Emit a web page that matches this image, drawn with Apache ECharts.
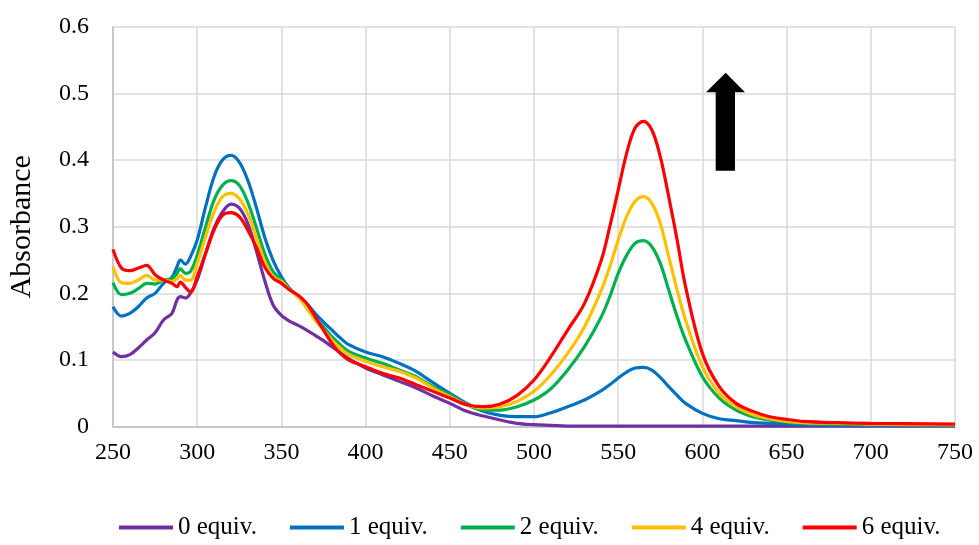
<!DOCTYPE html>
<html>
<head>
<meta charset="utf-8">
<script src="https://cdn.jsdelivr.net/npm/echarts@6/dist/echarts.min.js"></script>
<style>
  html, body { margin: 0; padding: 0; background: #fff; }
  #chart { width: 979px; height: 545px; }
</style>
</head>
<body>
<div id="chart"></div>
<script>
// Wavelength (nm) sample points shared by all spectra
const wavelengths = [
  250, 255, 260, 265, 270, 275, 280, 285, 288, 290, 293, 296,
  300, 305, 310, 315, 320, 325, 330, 335, 340, 345, 350, 355, 360, 365, 370, 375, 380, 385, 390,
  400, 410, 420, 430, 440, 450, 460, 470, 480, 490, 500, 510, 520, 530, 540,
  545, 550, 555, 560, 565, 570, 575, 580, 585, 590,
  600, 610, 620, 630, 640, 650, 660, 680, 700, 750
];

const seriesNames = ['0 equiv.', '1 equiv.', '2 equiv.', '4 equiv.', '6 equiv.'];

const abs0 = [
  0.112, 0.105, 0.108, 0.118, 0.130, 0.141, 0.160, 0.170, 0.190, 0.195, 0.193, 0.200,
  0.220, 0.260, 0.298, 0.322, 0.334, 0.328, 0.305, 0.265, 0.220, 0.183, 0.167, 0.158, 0.152, 0.145, 0.137, 0.129, 0.120, 0.111, 0.102,
  0.088, 0.078, 0.068, 0.058, 0.046, 0.035, 0.023, 0.016, 0.010, 0.005, 0.003, 0.002, 0.001, 0.001, 0.001,
  0.001, 0.001, 0.001, 0.001, 0.001, 0.001, 0.001, 0.001, 0.001, 0.001,
  0.001, 0.001, 0.001, 0.001, 0.001, 0.001, 0.001, 0.001, 0.001, 0.001
];
const abs1 = [
  0.180, 0.166, 0.170, 0.180, 0.193, 0.200, 0.215, 0.224, 0.240, 0.250, 0.244, 0.255,
  0.280, 0.330, 0.375, 0.400, 0.407, 0.397, 0.370, 0.330, 0.285, 0.250, 0.225, 0.207, 0.195, 0.185, 0.170, 0.157, 0.145, 0.133, 0.123,
  0.112, 0.105, 0.095, 0.083, 0.066, 0.050, 0.035, 0.023, 0.017, 0.015, 0.015, 0.021, 0.030, 0.040, 0.054,
  0.063, 0.073, 0.082, 0.088, 0.089, 0.085, 0.074, 0.060, 0.047, 0.035,
  0.020, 0.012, 0.009, 0.006, 0.005, 0.004, 0.003, 0.002, 0.002, 0.002
];
const abs2 = [
  0.216, 0.198, 0.200, 0.207, 0.215, 0.214, 0.220, 0.222, 0.230, 0.237, 0.230, 0.233,
  0.257, 0.300, 0.340, 0.362, 0.369, 0.362, 0.337, 0.300, 0.260, 0.233, 0.220, 0.206, 0.195, 0.180, 0.163, 0.150, 0.135, 0.123, 0.113,
  0.103, 0.095, 0.085, 0.075, 0.060, 0.048, 0.033, 0.025, 0.025, 0.030, 0.040, 0.057, 0.085, 0.120, 0.165,
  0.195, 0.230, 0.257, 0.275, 0.279, 0.270, 0.245, 0.205, 0.165, 0.130,
  0.075, 0.043, 0.025, 0.015, 0.010, 0.007, 0.005, 0.004, 0.003, 0.002
];
const abs4 = [
  0.240, 0.216, 0.215, 0.220, 0.227, 0.220, 0.220, 0.218, 0.222, 0.227, 0.220, 0.220,
  0.245, 0.285, 0.322, 0.345, 0.350, 0.342, 0.320, 0.285, 0.248, 0.225, 0.218, 0.205, 0.195, 0.178, 0.160, 0.145, 0.130, 0.118, 0.108,
  0.098, 0.090, 0.083, 0.073, 0.058, 0.045, 0.033, 0.028, 0.030, 0.038, 0.053, 0.078, 0.110, 0.150, 0.205,
  0.240, 0.280, 0.315, 0.338, 0.345, 0.335, 0.305, 0.255, 0.205, 0.160,
  0.090, 0.050, 0.030, 0.018, 0.012, 0.008, 0.006, 0.005, 0.004, 0.003
];
const abs6 = [
  0.266, 0.238, 0.234, 0.238, 0.242, 0.228, 0.220, 0.215, 0.210, 0.217, 0.209, 0.202,
  0.225, 0.260, 0.295, 0.317, 0.321, 0.315, 0.295, 0.270, 0.240, 0.223, 0.215, 0.205, 0.197, 0.185, 0.165, 0.145, 0.125, 0.110, 0.100,
  0.090, 0.080, 0.073, 0.063, 0.053, 0.043, 0.033, 0.030, 0.034, 0.047, 0.070, 0.105, 0.145, 0.185, 0.250,
  0.300, 0.355, 0.410, 0.448, 0.458, 0.445, 0.405, 0.345, 0.280, 0.210,
  0.110, 0.060, 0.035, 0.023, 0.015, 0.011, 0.008, 0.006, 0.005, 0.004
];

const xTicks = { min: 250, max: 750, step: 50 };
const yTicks = { min: 0, max: 0.6, step: 0.1 };

const colors = ['#7030A0', '#0070C0', '#00B050', '#FFC000', '#FF0000'];
const values = [abs0, abs1, abs2, abs4, abs6];
const FONT = '"Liberation Serif", "DejaVu Serif", serif';

const chart = echarts.init(document.getElementById('chart'), null, { renderer: 'canvas' });

const series = seriesNames.map((name, i) => ({
  name: name,
  type: 'line',
  data: wavelengths.map((w, j) => [w, values[i][j]]),
  smooth: 0.35,
  symbol: 'none',
  lineStyle: { width: 3.2, color: colors[i] },
  itemStyle: { color: colors[i] },
  z: 2 + i
}));

chart.setOption({
  animation: false,
  backgroundColor: '#ffffff',
  color: colors,
  textStyle: { fontFamily: FONT },
  grid: {
    left: 113, right: 24, top: 26.7, bottom: 118.3,
    containLabel: false, outerBoundsMode: 'none'
  },
  xAxis: {
    type: 'value',
    min: xTicks.min,
    max: xTicks.max,
    interval: xTicks.step,
    axisLine: { show: true, lineStyle: { color: '#bfbfbf', width: 1.5 } },
    axisTick: { show: false },
    axisLabel: { color: '#000', fontSize: 24, fontFamily: FONT, margin: 14 },
    splitLine: { show: true, lineStyle: { color: '#d9d9d9', width: 1.5 } }
  },
  yAxis: {
    type: 'value',
    min: yTicks.min,
    max: yTicks.max,
    interval: yTicks.step,
    name: 'Absorbance',
    nameLocation: 'middle',
    nameGap: 76,
    nameTextStyle: { color: '#000', fontSize: 30, fontFamily: FONT },
    axisLine: { show: true, lineStyle: { color: '#bfbfbf', width: 1.5 } },
    axisTick: { show: false },
    axisLabel: {
      color: '#000', fontSize: 24, fontFamily: FONT, margin: 24,
      formatter: v => (Math.round(v * 10) / 10).toString()
    },
    splitLine: { show: true, lineStyle: { color: '#d9d9d9', width: 1.5 } }
  },
  legend: {
    data: seriesNames,
    bottom: 0,
    left: 114,
    itemWidth: 54,
    itemHeight: 14,
    itemGap: 33,
    icon: 'path://M0,0 L54,0 L54,4 L0,4 Z',
    textStyle: { color: '#000', fontSize: 25, fontFamily: FONT, padding: [0, 0, 0, 0] }
  },
  graphic: [{
    type: 'polygon',
    shape: {
      points: [
        [725.7, 72.7], [745, 92.3], [735, 92.3], [735, 170.7],
        [715.7, 170.7], [715.7, 92.3], [706, 92.3]
      ]
    },
    style: { fill: '#000' },
    z: 100
  }],
  series: series
});
</script>
</body>
</html>
